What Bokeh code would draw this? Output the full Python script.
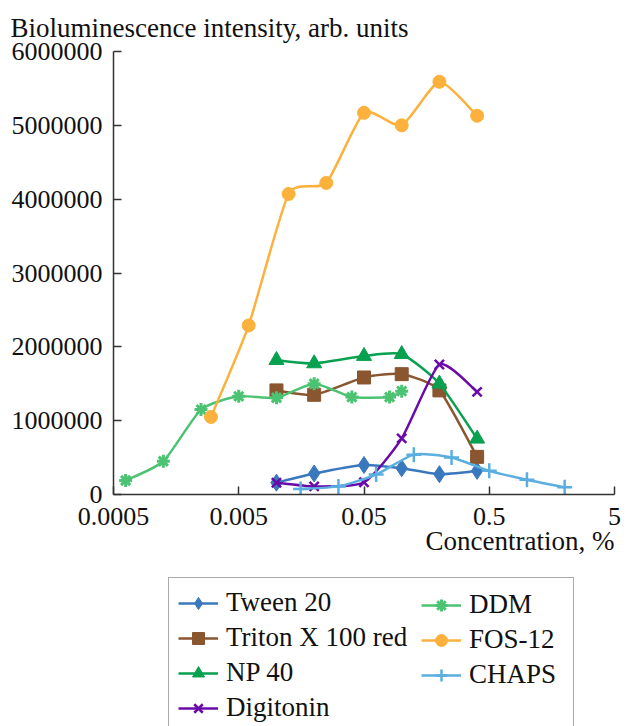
import numpy as np
from bokeh.plotting import figure
from bokeh.layouts import column
from bokeh.models import Range1d, FixedTicker, Legend, LegendItem, Title
from bokeh.embed import file_html
from bokeh.resources import INLINE

# ---- data (intensity in millions of arb. units) ----
tween_x = [0.01, 0.02, 0.05, 0.1, 0.2, 0.4]
tween_y = [0.16, 0.285, 0.40, 0.355, 0.275, 0.32]

triton_x = [0.01, 0.02, 0.05, 0.1, 0.2, 0.4]
triton_y = [1.41, 1.35, 1.585, 1.63, 1.41, 0.51]

np40_x = [0.01, 0.02, 0.05, 0.1, 0.2, 0.4]
np40_y = [1.82, 1.775, 1.875, 1.90, 1.50, 0.755]

digi_x = [0.01, 0.02, 0.05, 0.1, 0.2, 0.4]
digi_y = [0.16, 0.11, 0.165, 0.76, 1.76, 1.39]

ddm_x = [0.000625, 0.00125, 0.0025, 0.005, 0.01, 0.02, 0.04, 0.08, 0.1]
ddm_y = [0.19, 0.45, 1.15, 1.33, 1.31, 1.50, 1.32, 1.32, 1.40]

fos_x = [0.003, 0.006, 0.0125, 0.025, 0.05, 0.1, 0.2, 0.4]
fos_y = [1.05, 2.29, 4.07, 4.22, 5.17, 5.00, 5.59, 5.13]

chaps_x = [0.0156, 0.03125, 0.0625, 0.125, 0.25, 0.5, 1.0, 2.0]
chaps_y = [0.075, 0.11, 0.27, 0.54, 0.50, 0.32, 0.20, 0.097]

x_ticks = [0.0005, 0.005, 0.05, 0.5, 5]
x_tick_labels = ["0.0005", "0.005", "0.05", "0.5", "5"]
y_ticks = [0, 1000000, 2000000, 3000000, 4000000, 5000000, 6000000]
y_tick_labels = ["0", "1000000", "2000000", "3000000", "4000000", "5000000", "6000000"]

SCALE = 1e6
FONT = "Liberation Serif"
FS_TICK = "26px"
FS_TEXT = "27px"
TXT = "#111111"
SMOOTH = 0.1

series = [
    ("Tween 20", tween_x, tween_y, "#3a78bd", "diamond", 17, 1),
    ("Triton X 100 red", triton_x, triton_y, "#8a5630", "square", 13, 1),
    ("NP 40", np40_x, np40_y, "#08a150", "triangle", 15, 1),
    ("Digitonin", digi_x, digi_y, "#6a0aa8", "x", 13, 2.5),
    ("DDM", ddm_x, ddm_y, "#4cc372", "asterisk", 13, 3),
    ("FOS-12", fos_x, fos_y, "#fbb13c", "circle", 13, 1),
    ("CHAPS", chaps_x, chaps_y, "#5aaee0", "cross", 15, 2.5),
]

BL, BR = 113, 11

p = figure(width=625, height=576, x_axis_type="log",
           x_range=Range1d(0.0005, 5), y_range=Range1d(0, 6000000),
           output_backend="svg", toolbar_location=None,
           title="Bioluminescence intensity, arb. units",
           min_border_left=BL, min_border_right=BR,
           min_border_top=51, min_border_bottom=82)

p.title.align = "left"
p.title.offset = -103
p.title.text_font = FONT
p.title.text_font_size = FS_TEXT
p.title.text_font_style = "normal"
p.title.text_color = TXT
p.title.standoff = 18

p.grid.visible = False
p.outline_line_color = None
p.background_fill_color = "white"
p.border_fill_color = "white"

for ax in (p.xaxis[0], p.yaxis[0]):
    ax.axis_line_color = "#333333"
    ax.axis_line_width = 1.5
    ax.major_tick_line_color = "#333333"
    ax.major_tick_line_width = 1.5
    ax.major_tick_in = 8
    ax.major_tick_out = 0
    ax.minor_tick_line_color = None
    ax.major_label_text_font = FONT
    ax.major_label_text_font_size = FS_TICK
    ax.major_label_text_color = TXT

p.xaxis.ticker = FixedTicker(ticks=x_ticks)
p.xaxis.major_label_overrides = {t: l for t, l in zip(x_ticks, x_tick_labels)}
p.xaxis.major_label_standoff = 13
p.yaxis.ticker = FixedTicker(ticks=y_ticks)
p.yaxis.major_label_overrides = {t: l for t, l in zip(y_ticks, y_tick_labels)}
p.yaxis.major_label_standoff = 11

p.add_layout(Title(text="Concentration, %", align="right", text_font=FONT,
                   text_font_size=FS_TEXT, text_font_style="normal",
                   text_color=TXT, standoff=-7), "below")


def smooth(xs, ys):
    lx = np.log10(np.array(xs, dtype=float))
    y = np.array(ys, dtype=float) * SCALE
    n = len(lx)
    out = {k: [] for k in ("x0", "y0", "x1", "y1", "cx0", "cy0", "cx1", "cy1")}
    for i in range(n - 1):
        i0 = max(i - 1, 0)
        i3 = min(i + 2, n - 1)
        c1x = lx[i] + (lx[i + 1] - lx[i0]) * SMOOTH
        c1y = y[i] + (y[i + 1] - y[i0]) * SMOOTH
        c2x = lx[i + 1] - (lx[i3] - lx[i]) * SMOOTH
        c2y = y[i + 1] - (y[i3] - y[i]) * SMOOTH
        out["x0"].append(10 ** lx[i]); out["y0"].append(y[i])
        out["x1"].append(10 ** lx[i + 1]); out["y1"].append(y[i + 1])
        out["cx0"].append(10 ** c1x); out["cy0"].append(c1y)
        out["cx1"].append(10 ** c2x); out["cy1"].append(c2y)
    return out


def add_marker(fig, xs, yv, color, marker, size, lw):
    if marker in ("x", "cross", "asterisk"):
        return fig.scatter(xs, yv, marker=marker, size=size, line_color=color,
                           line_width=lw, fill_color=color)
    return fig.scatter(xs, yv, marker=marker, size=size, line_color=color,
                       fill_color=color, line_width=1)


for name, xs, ys, color, marker, size, lw in series:
    p.bezier(line_color=color, line_width=2.5, **smooth(xs, ys))
    add_marker(p, xs, [v * SCALE for v in ys], color, marker, size, lw)

# ---- legend panel ----
q = figure(width=625, height=150, x_range=Range1d(-3, -2), y_range=Range1d(-3, -2),
           output_backend="svg", toolbar_location=None,
           x_axis_location=None, y_axis_location=None,
           min_border_left=BL, min_border_right=BR,
           min_border_top=0, min_border_bottom=0)
q.grid.visible = False
q.outline_line_color = None
q.background_fill_color = "white"
q.border_fill_color = "white"

items = []
for name, xs, ys, color, marker, size, lw in series:
    yv = [v * SCALE for v in ys]
    ln = q.line(xs, yv, line_color=color, line_width=2.5)
    sc = add_marker(q, xs, yv, color, marker, size, lw)
    items.append(LegendItem(label=name, renderers=[ln, sc]))


def make_legend(its, loc, pad, label_width, border):
    lg = Legend(items=its, location=loc)
    lg.label_text_font = FONT
    lg.label_text_font_size = FS_TEXT
    lg.label_text_color = TXT
    lg.glyph_width = 40
    lg.glyph_height = 30
    lg.label_height = 30
    lg.label_width = label_width
    lg.label_standoff = 8
    lg.spacing = 4
    lg.padding = pad
    lg.margin = 0
    lg.border_line_color = "#555555" if border else None
    lg.border_line_width = 1.5
    lg.background_fill_color = "white"
    lg.background_fill_alpha = 1 if border else 0
    return lg


# first column carries the box that encloses both columns
q.add_layout(make_legend(items[:4], (55, -7), 9, 338, True), "center")
q.add_layout(make_legend(items[4:], (308, 36), 0, 20, False), "center")

layout = column(p, q, spacing=0)
open("out.html", "w").write(file_html(layout, INLINE))
